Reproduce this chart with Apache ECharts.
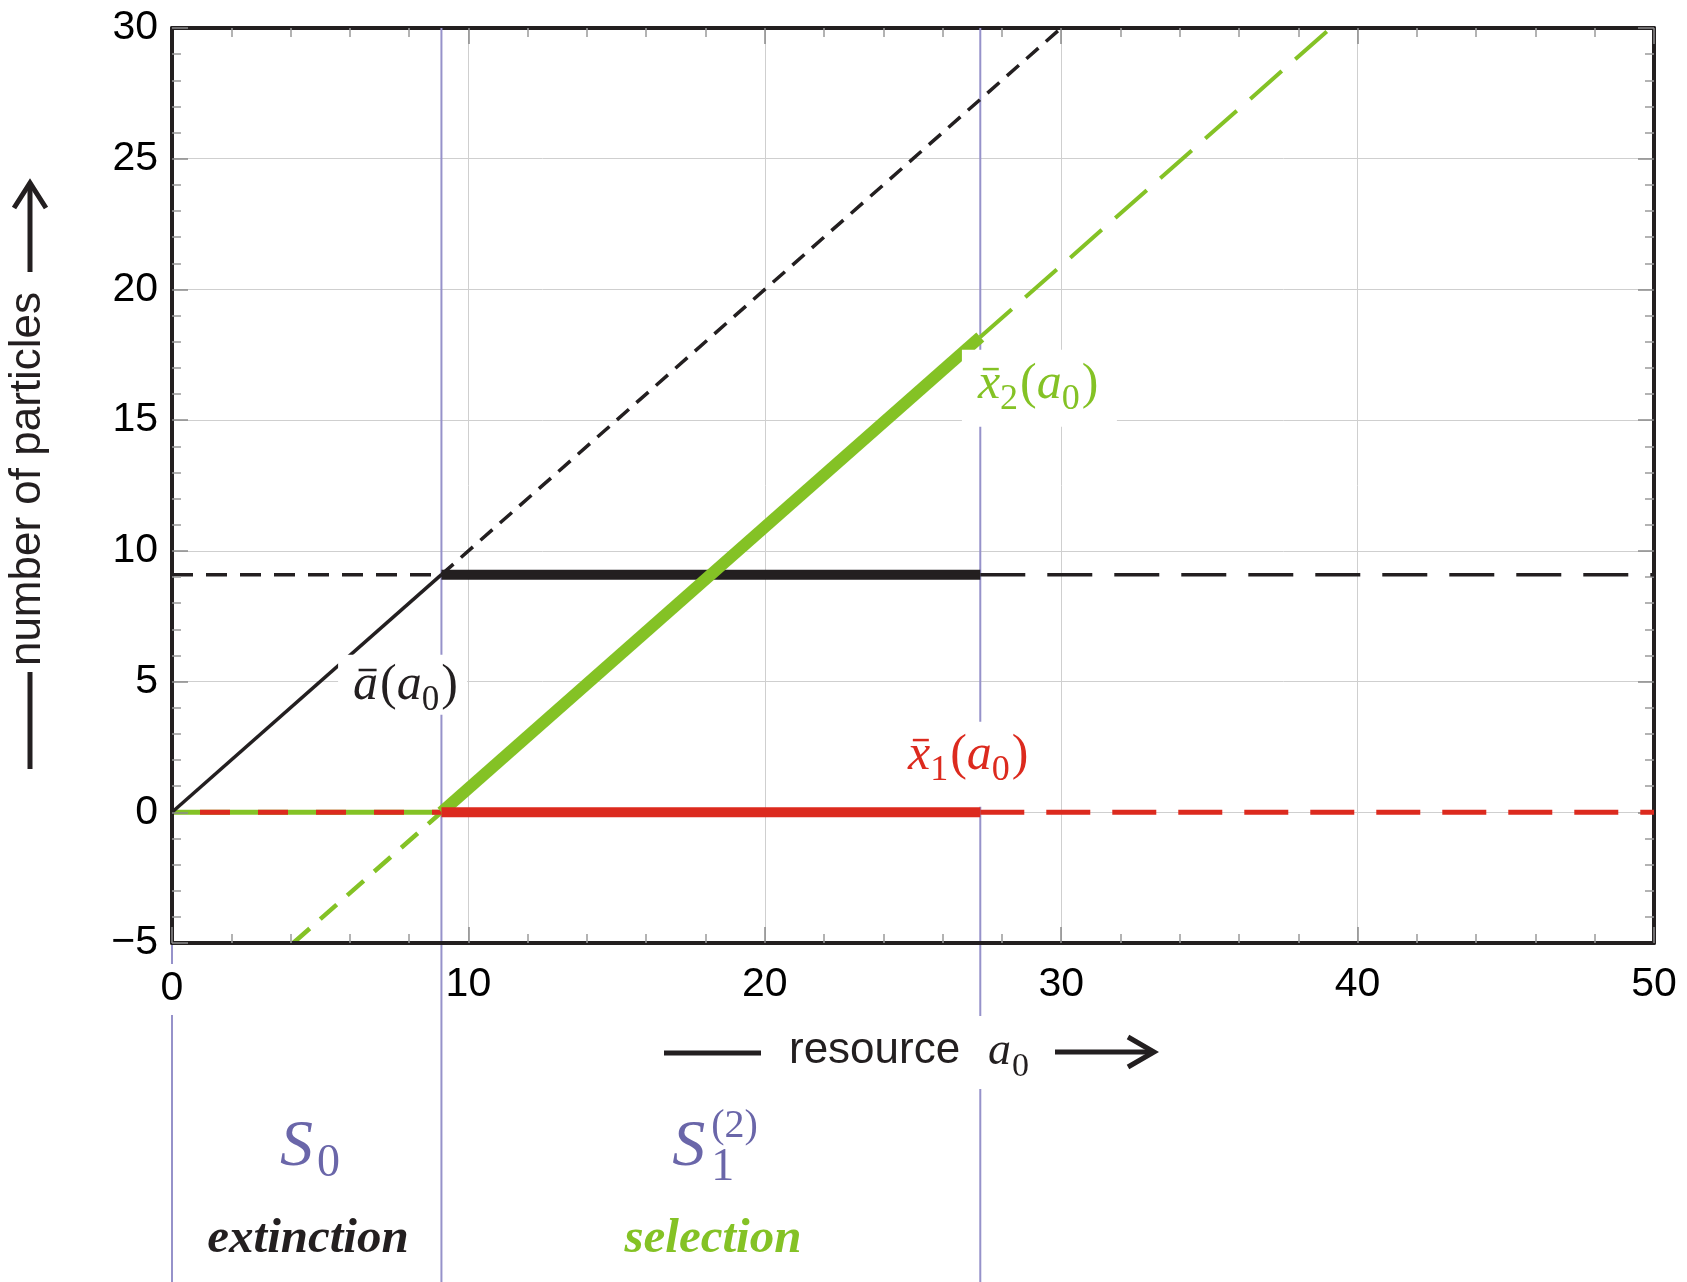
<!DOCTYPE html>
<html>
<head>
<meta charset="utf-8">
<script src="https://cdn.jsdelivr.net/npm/echarts@6.0.0/dist/echarts.min.js"></script>
<style>
  html, body { margin: 0; padding: 0; background: #fff; }
  #chart { width: 1687px; height: 1282px; }
</style>
</head>
<body>
<div id="chart"></div>
<script>
// values (x = resource a0, y = number of particles)
const regionBounds = [0, 9.09, 27.27];

const aBarRise = [[0, 0], [9.09, 9.09]];
const aBarRiseDashed = [[9.09, 9.09], [30, 30]];
const aBarFlatLeft = [[0, 9.09], [9.09, 9.09]];
const aBarFlatStable = [[9.09, 9.09], [27.27, 9.09]];
const aBarFlatRight = [[27.27, 9.09], [50, 9.09]];

const x1Left = [[0, 0], [9.09, 0]];
const x1Stable = [[9.09, 0], [27.27, 0]];
const x1Right = [[27.27, 0], [50, 0]];

const x2Left = [[0, 0], [9.09, 0]];
const x2Below = [[4.09, -5], [9.09, 0]];
const x2Stable = [[9.09, 0], [27.27, 18.18]];
const x2Above = [[27.27, 18.18], [39.09, 30]];

const xTicks = { min: 0, max: 50, interval: 10 };
const yTicks = { min: -5, max: 30, interval: 5 };

// label anchors in data units: [a0, value] of left edge / baseline
const aBarLabelAt = [6.11, 4.19];
const x1LabelAt = [24.83, 1.51];
const x2LabelAt = [27.19, 15.7];

const BLACK = '#231f20';
const RED = '#dc2a1e';
const GREEN = '#84c225';
const BLUE_LINE = '#9692ca';
const BLUE_TEXT = '#6a66a9';
const SANS = '"Liberation Sans", Arial, sans-serif';
const SERIF = '"Liberation Serif", "Times New Roman", serif';

const chart = echarts.init(document.getElementById('chart'));

const line = (data, color, width, dash, z, dashOffset) => ({
  type: 'line',
  data,
  symbol: 'none',
  silent: true,
  animation: false,
  z,
  lineStyle: { color, width, type: dash || 'solid', dashOffset: dashOffset || 0, cap: 'butt' },
});

const axisCommon = {
  type: 'value',
  axisLine: { show: true, onZero: false, lineStyle: { color: BLACK, width: 4 } },
  axisTick: { show: true, inside: true, length: 16, lineStyle: { color: '#8a8a8a', width: 1.5 } },
  minorTick: { show: true, splitNumber: 5, length: 9, lineStyle: { color: '#9a9a9a', width: 1.5 } },
};

chart.setOption({
  animation: false,
  backgroundColor: '#fff',
  grid: { left: 172, right: 33, top: 28, bottom: 339 },
  xAxis: [
    {
      ...axisCommon, ...xTicks, position: 'bottom', z: 3,
      splitLine: { show: false },
      axisLabel: {
        fontSize: 41, fontFamily: SANS, color: '#000', margin: 21,
        formatter: (v) => (v === 0 ? '{w|0}' : String(v)),
        rich: { w: { fontSize: 41, fontFamily: SANS, color: '#000', backgroundColor: '#fff', padding: [4, 3, 6, 3] } },
      },
    },
    {
      ...axisCommon, ...xTicks, position: 'top', z: 0,
      axisLabel: { show: false },
      splitLine: { show: true, lineStyle: { color: '#cfcfcf', width: 1 } },
    },
  ],
  yAxis: [
    {
      ...axisCommon, ...yTicks, position: 'left', z: 3,
      splitLine: { show: false },
      axisLabel: {
        fontSize: 41, fontFamily: SANS, color: '#000', margin: 14,
        formatter: (v) => (v < 0 ? '\u2212' + Math.abs(v) : String(v)),
      },
    },
    {
      ...axisCommon, ...yTicks, position: 'right', z: 0,
      axisLabel: { show: false },
      splitLine: { show: true, lineStyle: { color: '#cfcfcf', width: 1 } },
    },
  ],
  series: [
    line(x2Left, GREEN, 5, 'solid', 2),
    line(x1Left, RED, 5, [30, 28], 3, 30),
    line(x2Below, GREEN, 4.5, [22, 14], 2),
    line(x2Above, GREEN, 4, [42, 18], 2),
    line(aBarRise, BLACK, 3.5, 'solid', 2),
    line(aBarRiseDashed, BLACK, 3.5, [16, 10], 2),
    line(aBarFlatLeft, BLACK, 3.5, [21, 13], 2),
    line(aBarFlatRight, BLACK, 3.5, [45, 22], 2),
    line(x1Right, RED, 5, [44, 22], 2),
    line(aBarFlatStable, BLACK, 10, 'solid', 3),
    line(x2Stable, GREEN, 12, 'solid', 3),
    line(x1Stable, RED, 10, 'solid', 4),
  ],
});

// ---- annotations ----
const measure = document.createElement('canvas').getContext('2d');
const fontOf = (p) =>
  `${p.italic ? 'italic ' : ''}${p.bold ? 'bold ' : ''}${p.size}px ${p.family || SERIF}`;

const widthOf = (parts) => {
  let x = 0, prevX = 0;
  parts.forEach((p) => {
    if (p.stack) x = prevX;
    x += p.gap || 0;
    measure.font = fontOf(p);
    prevX = x;
    x += measure.measureText(p.text).width;
  });
  return x;
};

// lays out math-ish text pieces left to right on a common baseline
const mathText = (parts, left, baseline, color, z) => {
  const out = [];
  let x = left, prevX = left;
  parts.forEach((p) => {
    if (p.stack) x = prevX;
    x += p.gap || 0;
    const font = fontOf(p);
    measure.font = font;
    const w = measure.measureText(p.text).width;
    const base = baseline + (p.dy || 0);
    const fill = p.color || color;
    out.push({
      type: 'text', z, silent: true,
      style: { text: p.text, x, y: base - 0.34 * p.size, font, fill, align: 'left', verticalAlign: 'middle' },
    });
    if (p.bar) {
      out.push({
        type: 'rect', z, silent: true,
        shape: { x: x + w * 0.22, y: base - p.size * 0.68, width: w * 0.72, height: 2.5 },
        style: { fill },
      });
    }
    prevX = x;
    x += w;
  });
  return out;
};

const px = (pt) => chart.convertToPixel({ xAxisIndex: 0, yAxisIndex: 0 }, pt);
const topY = px([0, yTicks.max])[1];

const graphics = [];

// region boundaries, running down past the axis
regionBounds.forEach((b) => {
  const x = px([b, 0])[0];
  graphics.push({
    type: 'line', z: 1, silent: true,
    shape: { x1: x, y1: topY, x2: x, y2: 1282 },
    style: { stroke: BLUE_LINE, lineWidth: 2 },
  });
});

const whiteBox = (x, y, w, h) => ({
  type: 'rect', z: 5, silent: true,
  shape: { x, y, width: w, height: h },
  style: { fill: '#fff' },
});

const curveLabel = (at, parts, color, box) => {
  const [l, b] = px(at);
  graphics.push(whiteBox(l + box[0], b + box[1], box[2], box[3]));
  graphics.push(...mathText(parts, l, b, color, 6));
};

curveLabel(aBarLabelAt, [
  { text: 'a', size: 50, italic: true, bar: true },
  { text: '(', size: 50, gap: 2 },
  { text: 'a', size: 50, italic: true },
  { text: '0', size: 35, dy: 10 },
  { text: ')', size: 50, gap: 2 },
], BLACK, [-15, -48, 129, 60]);

curveLabel(x2LabelAt, [
  { text: 'x', size: 50, italic: true, bar: true },
  { text: '2', size: 36, dy: 10 },
  { text: '(', size: 50, gap: 2 },
  { text: 'a', size: 50, italic: true },
  { text: '0', size: 36, dy: 10 },
  { text: ')', size: 50, gap: 2 },
], GREEN, [-16, -52, 155, 77]);

curveLabel(x1LabelAt, [
  { text: 'x', size: 50, italic: true, bar: true },
  { text: '1', size: 36, dy: 10 },
  { text: '(', size: 50, gap: 2 },
  { text: 'a', size: 50, italic: true },
  { text: '0', size: 36, dy: 10 },
  { text: ')', size: 50, gap: 2 },
], RED, [-3, -51, 132, 85]);

// region names under the axis
const centered = (parts, cx, baseline, color) => {
  graphics.push(...mathText(parts, cx - widthOf(parts) / 2, baseline, color, 6));
};
const s0 = [
  { text: 'S', size: 66, italic: true },
  { text: '0', size: 46, dy: 10, gap: 4 },
];
const s1 = [
  { text: 'S', size: 66, italic: true },
  { text: '1', size: 46, dy: 14, gap: 6 },
  { text: '(2)', size: 40, dy: -30, stack: true },
];
centered(s0, 310, 1170, BLUE_TEXT);
centered(s1, 715, 1170, BLUE_TEXT);
centered([{ text: 'extinction', size: 49, italic: true, bold: true }], 308, 1256, BLACK);
centered([{ text: 'selection', size: 49, italic: true, bold: true }], 713, 1256, GREEN);

// x axis title: —— resource a0 ——>
graphics.push(whiteBox(775, 1016, 270, 73));
graphics.push({
  type: 'line', z: 6, silent: true,
  shape: { x1: 664, y1: 1053, x2: 761, y2: 1053 },
  style: { stroke: BLACK, lineWidth: 5 },
});
graphics.push({
  type: 'text', z: 6, silent: true,
  style: { text: 'resource', x: 789, y: 1051, font: `44px ${SANS}`, fill: BLACK, align: 'left', verticalAlign: 'middle' },
});
graphics.push(...mathText([
  { text: 'a', size: 46, italic: true },
  { text: '0', size: 34, dy: 11, gap: 1 },
], 988, 1068, BLACK, 6));
graphics.push({
  type: 'line', z: 6, silent: true,
  shape: { x1: 1055, y1: 1052, x2: 1152, y2: 1052 },
  style: { stroke: BLACK, lineWidth: 5 },
});
graphics.push({
  type: 'polyline', z: 6, silent: true,
  shape: { points: [[1128, 1037], [1154, 1052], [1128, 1067]] },
  style: { stroke: BLACK, lineWidth: 5, fill: null },
});

// y axis title, rotated: —— number of particles ——>
graphics.push({
  type: 'group', x: 32, y: 479, rotation: Math.PI / 2, silent: true,
  children: [
    {
      type: 'text', z: 6,
      style: { text: 'number of particles', x: 0, y: -4, font: `44px ${SANS}`, fill: BLACK, align: 'center', verticalAlign: 'middle' },
    },
    {
      type: 'line', z: 6,
      shape: { x1: -193, y1: -2, x2: -290, y2: -2 },
      style: { stroke: BLACK, lineWidth: 5 },
    },
    {
      type: 'line', z: 6,
      shape: { x1: 207, y1: -2, x2: 294, y2: -2 },
      style: { stroke: BLACK, lineWidth: 5 },
    },
    {
      type: 'polyline', z: 6,
      shape: { points: [[271, -18], [296, -2], [271, 14]] },
      style: { stroke: BLACK, lineWidth: 5, fill: null },
    },
  ],
});

chart.setOption({ graphic: graphics });
</script>
</body>
</html>
